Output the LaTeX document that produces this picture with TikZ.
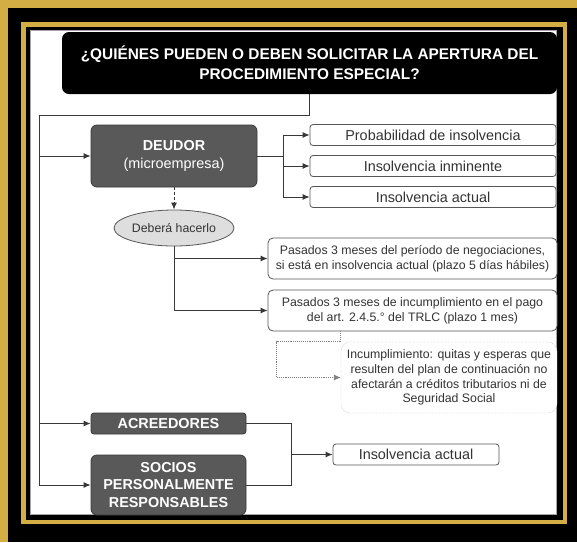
\documentclass[tikz,border=0pt]{standalone}
\usepackage{fontspec}
\setmainfont{Liberation Sans}
\usetikzlibrary{shapes.geometric,arrows.meta}
\definecolor{gold}{HTML}{D3AE45}
\definecolor{slate}{HTML}{595959}
\definecolor{edge}{HTML}{383838}
\definecolor{pale}{HTML}{DEDEDE}
\definecolor{txt}{HTML}{333333}
\newcommand\txtL{\fontsize{14.4}{17.5}\selectfont}
\newcommand\txtS{\fontsize{12.3}{14.7}\selectfont}
\newcommand\txtT{\fontsize{15.4}{20}\selectfont\bfseries}

\begin{document}
\begin{tikzpicture}[x=1pt,y=-1pt,font=\txtL,
  conn/.style={draw=edge,line width=0.9pt},
  arr/.style={conn,-{Latex[length=7pt,width=6pt]}},
  whitebox/.style={draw=edge!85,fill=white,rounded corners=3pt,line width=0.8pt,text=txt,inner sep=0pt},
  darkbox/.style={draw=edge,fill=slate,rounded corners=6pt,line width=0.8pt,text=white,font=\txtL\bfseries,align=center,inner sep=0pt}]
  \useasboundingbox (0,0) rectangle (577,542);
  % frame: black ground, gold bands, white sheet
  \fill[black] (0,0) rectangle (577,542);
  \fill[gold] (0,0) rectangle (8,542);
  \fill[gold] (0,0) rectangle (577,8);
  \draw[gold,line width=4.5pt] (23.25,24.25) rectangle (564.75,521.75);
  \fill[white] (30,30) rectangle (557,515);
  \draw[black!35,line width=1pt] (30.5,30.5) rectangle (556.5,514.5);

  % title
  \node[fill=black,rounded corners=7pt,minimum width=495pt,minimum height=62pt,text=white,font=\txtT,align=center] (titulo) at (309.5,63)
    {¿QUIÉNES PUEDEN O DEBEN SOLICITAR LA APERTURA DEL\\PROCEDIMIENTO ESPECIAL?};

  % deudor and its three cases: name / text
  \node[darkbox,minimum width=166pt,minimum height=62pt] (deudor) at (174,156) {DEUDOR\\{\mdseries (microempresa)}};
  \foreach \i/\nm/\lbl in {
     0/prob/{Probabilidad de insolvencia},
     1/inmin/{Insolvencia inminente},
     2/actual/{Insolvencia actual}}{
       \pgfmathsetmacro\yy{135+\i*31}
       \node[whitebox,minimum width=246pt,minimum height=21pt] (\nm) at (433,\yy) {\lbl};
       \draw[arr] (deudor.east) -- ++(26,0) |- (\nm.west);
  }

  % deberá hacerlo
  \node[ellipse,draw=edge!85,fill=pale,line width=0.8pt,minimum width=120pt,minimum height=36pt,inner sep=0pt,font=\txtS,text=txt] (debera) at (174,228) {Deberá hacerlo};
  \draw[arr,dash pattern=on 3pt off 2pt] (deudor.south) -- (debera.north);
  \node[whitebox,rounded corners=5pt,minimum width=289pt,minimum height=41pt,align=center,font=\txtS] (plazoA) at (412.5,258.5)
    {Pasados 3 meses del período de negociaciones,\\si está en insolvencia actual (plazo 5 días hábiles)};
  \node[whitebox,rounded corners=5pt,minimum width=289pt,minimum height=41pt,align=center,font=\txtS] (plazoB) at (412.5,310.5)
    {Pasados 3 meses de incumplimiento en el pago\\del art. 2.4.5.° del TRLC (plazo 1 mes)};
  \draw[arr] (debera.south) |- (plazoB.west);
  \draw[arr] (debera.south |- plazoA.west) -- (plazoA.west);

  % note on incumplimiento
  \node[draw=gray!80,densely dotted,fill=white,rounded corners=9pt,minimum width=216pt,minimum height=71pt,inner sep=0pt,align=center,font=\txtS,text=txt] (incumpl) at (449,377.5)
    {Incumplimiento: quitas y esperas que\\resulten del plan de continuación no\\afectarán a créditos tributarios ni de\\Seguridad Social};
  \draw[arr,densely dotted,draw=gray] (plazoB.south -| incumpl.west) |- ([xshift=-64pt]incumpl.north west) |- (incumpl.west);

  % acreedores and socios
  \node[darkbox,rounded corners=3pt,minimum width=155pt,minimum height=21pt] (acreed) at (168.5,423.5) {ACREEDORES};
  \node[darkbox,minimum width=155pt,minimum height=60pt] (socios) at (168.5,485) {SOCIOS\\PERSONALMENTE\\RESPONSABLES};
  \node[whitebox,minimum width=166pt,minimum height=21pt] (actual2) at (416,454.5) {Insolvencia actual};
  \coordinate (union) at (291,454.5);
  \draw[conn] (acreed.east) -| (union);
  \draw[conn] (socios.east) -| (union);
  \draw[arr] (union) -- (actual2.west);

  % spine from the title
  \coordinate (tronco) at (39,115);
  \draw[conn] (titulo.south) |- (tronco);
  \draw[arr] (tronco) |- (socios.west);
  \foreach \nm in {deudor,acreed}
    \draw[arr] (tronco |- \nm.west) -- (\nm.west);
\end{tikzpicture}
\end{document}
